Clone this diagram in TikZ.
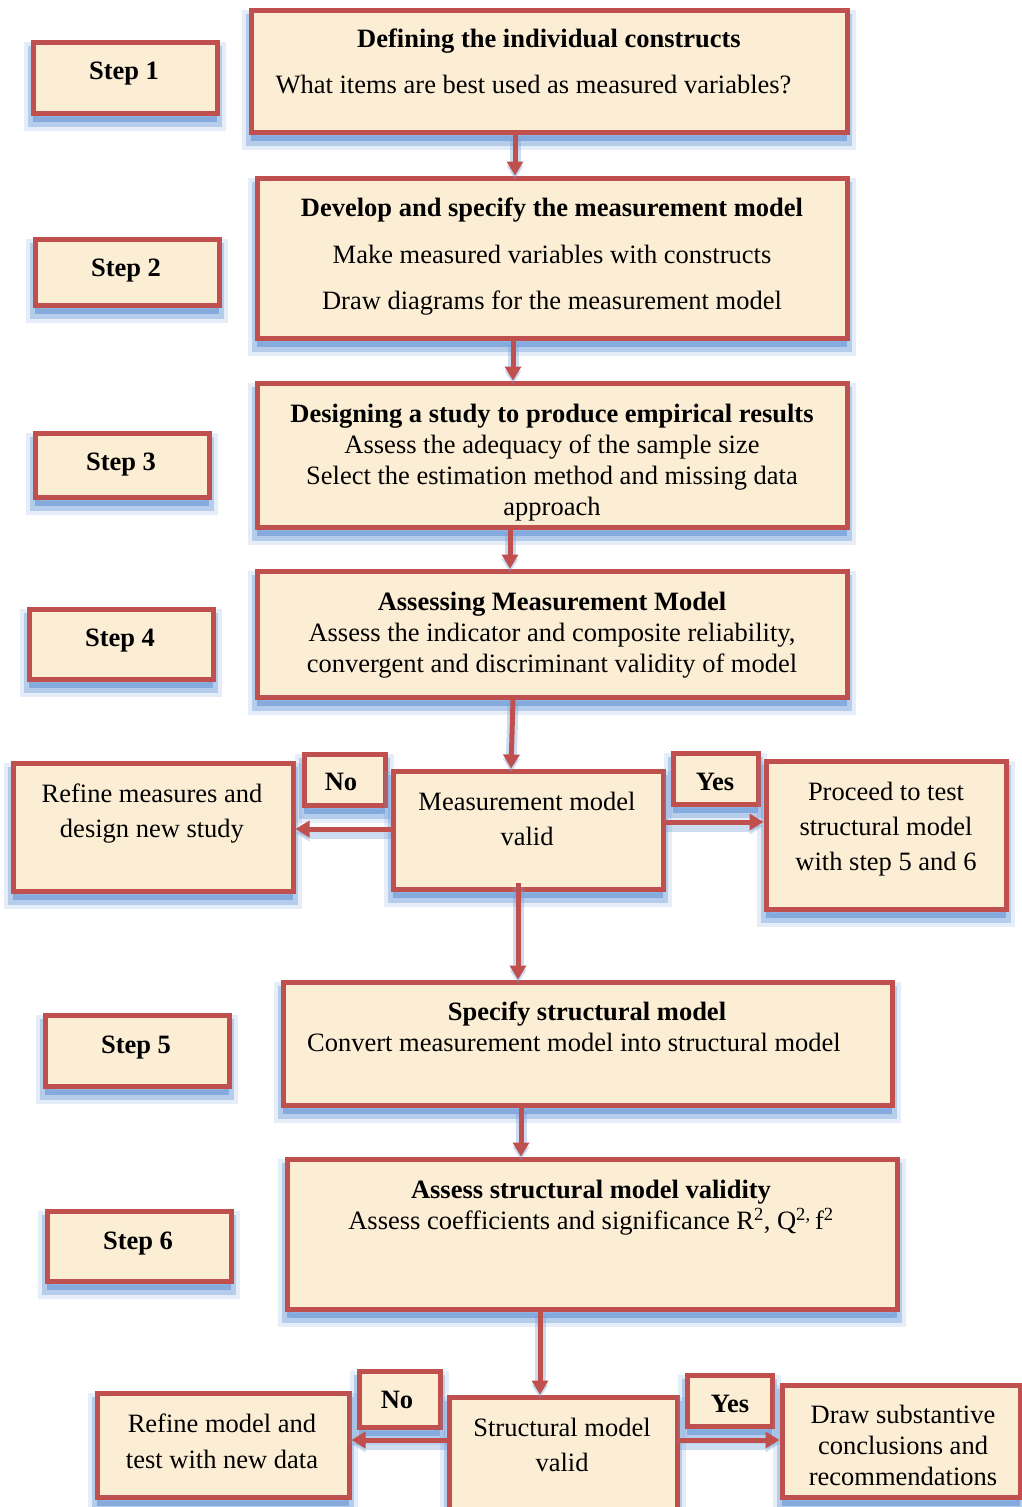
\documentclass[tikz,border=0pt]{standalone}
\usepackage{fontspec}
\setmainfont{Liberation Serif}
\usetikzlibrary{arrows.meta}
\definecolor{bordred}{HTML}{C0504D}
\definecolor{paper}{HTML}{FCEED5}
\definecolor{shblue}{HTML}{6F9BD8}
\tikzset{
  glow/.style={
    preaction={draw=shblue, line width=18pt, opacity=.18, transform canvas={yshift=-9pt}},
    preaction={draw=shblue, line width=10pt, opacity=.4, transform canvas={yshift=-9pt}},
    preaction={fill=shblue, opacity=.7, transform canvas={yshift=-9pt}}},
  box/.style={glow, draw=bordred, fill=paper, line width=5pt, rectangle, inner sep=0pt},
  txt/.style={anchor=north, inner sep=0pt, align=center, font=\fontsize{26.5}{31}\selectfont},
  btxt/.style={txt, font=\fontsize{26.5}{31}\selectfont\bfseries},
  arr/.style={draw=bordred, line width=5pt, -{Triangle[width=16pt,length=14pt]},
    preaction={draw=shblue, line width=11pt, opacity=.35, transform canvas={yshift=-4pt}}}
}
\begin{document}
\begin{tikzpicture}[x=1pt,y=-1pt]
\useasboundingbox (0,0) rectangle (1021,1507);

% step labels
\node[box, minimum width=184, minimum height=71] (s1) at (125,77.5) {};
\node[box, minimum width=184, minimum height=66] (s2) at (127,272) {};
\node[box, minimum width=174, minimum height=64] (s3) at (122,465) {};
\node[box, minimum width=184, minimum height=70] (s4) at (121,644) {};
\node[box, minimum width=184, minimum height=71] (s5) at (137,1050.5) {};
\node[box, minimum width=184, minimum height=70] (s6) at (139,1246) {};
\node[btxt] (s1t) at (124,62) {Step 1};
\node[btxt] (s2t) at (126,259) {Step 2};
\node[btxt] (s3t) at (121,453) {Step 3};
\node[btxt] (s4t) at (120,629) {Step 4};
\node[btxt] (s5t) at (136,1036) {Step 5};
\node[btxt] (s6t) at (138,1232) {Step 6};

% main stages
\node[box, minimum width=596, minimum height=122] (b1) at (549,71) {};
\node[box, minimum width=590, minimum height=160] (b2) at (552,258) {};
\node[box, minimum width=590, minimum height=144] (b3) at (552,455) {};
\node[box, minimum width=590, minimum height=126] (b4) at (552,634) {};
\node[box, minimum width=609, minimum height=123] (b5) at (587.5,1043.5) {};
\node[box, minimum width=610, minimum height=150] (b6) at (592,1234) {};

\node[btxt] (b1h) at (549,29) {Defining the individual constructs};
\node[txt] (b1t) at (533.5,75) {What items are best used as measured variables?};
\node[txt] (b2t) at (552,198) {\textbf{Develop and specify the measurement model}\\[15.5pt]
  Make measured variables with constructs\\[15.5pt]
  Draw diagrams for the measurement model};
\node[txt] (b3t) at (552,404) {\textbf{Designing a study to produce empirical results}\\
  Assess the adequacy of the sample size\\
  Select the estimation method and missing data\\
  approach};
\node[txt] (b4t) at (552,592) {\textbf{Assessing Measurement Model}\\
  Assess the indicator and composite reliability,\\
  convergent and discriminant validity of model};
\node[btxt] (b5h) at (587,1002) {Specify structural model};
\node[txt] (b5t) at (574,1033) {Convert measurement model into structural model};
\node[txt] (b6t) at (591,1180) {\textbf{Assess structural model validity}\\
  Assess coefficients and significance R\textsuperscript{2}, Q\textsuperscript{2,}\,f\textsuperscript{2}};

% first decision
\node[box, minimum width=280, minimum height=128] (r1) at (153,827) {};
\node[box, minimum width=81, minimum height=51] (no1) at (344.5,779.5) {};
\node[box, minimum width=270, minimum height=118] (mm) at (528,830) {};
\node[box, minimum width=85, minimum height=51] (yes1) at (715.5,778.5) {};
\node[box, minimum width=240, minimum height=148] (pr) at (886,835) {};
\node[txt] (r1t) at (152,784) {Refine measures and\\[4pt]design new study};
\node[btxt] (no1t) at (341,773) {No};
\node[txt] (mmt) at (527,792) {Measurement model\\[4pt]valid};
\node[btxt] (yes1t) at (715,773) {Yes};
\node[txt] (prt) at (886,782) {Proceed to test\\[4pt]structural model\\[4pt]with step 5 and 6};

% second decision
\node[box, minimum width=252, minimum height=104] (r2) at (223,1445) {};
\node[box, minimum width=81, minimum height=56] (no2) at (399.5,1399) {};
\node[box, minimum width=228, minimum height=123] (sm) at (563,1458.5) {};
\node[box, minimum width=85, minimum height=51] (yes2) at (729.5,1400.5) {};
\node[box, minimum width=238, minimum height=112] (dr) at (901,1441) {};
\node[txt] (r2t) at (222,1414) {Refine model and\\[5pt]test with new data};
\node[btxt] (no2t) at (397,1391) {No};
\node[txt] (smt) at (562,1418) {Structural model\\[4pt]valid};
\node[btxt] (yes2t) at (730,1395) {Yes};
\node[txt] (drt) at (903,1405) {Draw substantive\\conclusions and\\recommendations};

% connectors
\draw[arr] ([xshift=-34pt]b1.south) -- ([xshift=-37pt]b2.north);
\draw[arr] ([xshift=-39pt]b2.south) -- ([xshift=-39pt]b3.north);
\draw[arr] ([xshift=-42pt]b3.south) -- ([xshift=-42pt]b4.north);
\draw[arr] ([xshift=-39pt]b4.south) -- ([xshift=-17pt]mm.north);
\draw[arr] (mm.west |- 0,829) -- (r1.east |- 0,829);
\draw[arr] (mm.east |- 0,822) -- (pr.west |- 0,822);
\draw[arr] ([xshift=-10pt,yshift=9pt]mm.south) -- ([xshift=-69.5pt]b5.north);
\draw[arr] ([xshift=-66.5pt]b5.south) -- ([xshift=-71pt]b6.north);
\draw[arr] ([xshift=-52pt]b6.south) -- ([xshift=-23pt]sm.north);
\draw[arr] (sm.west |- 0,1440) -- (r2.east |- 0,1440);
\draw[arr] (sm.east |- 0,1440) -- (dr.west |- 0,1440);
\end{tikzpicture}
\end{document}
